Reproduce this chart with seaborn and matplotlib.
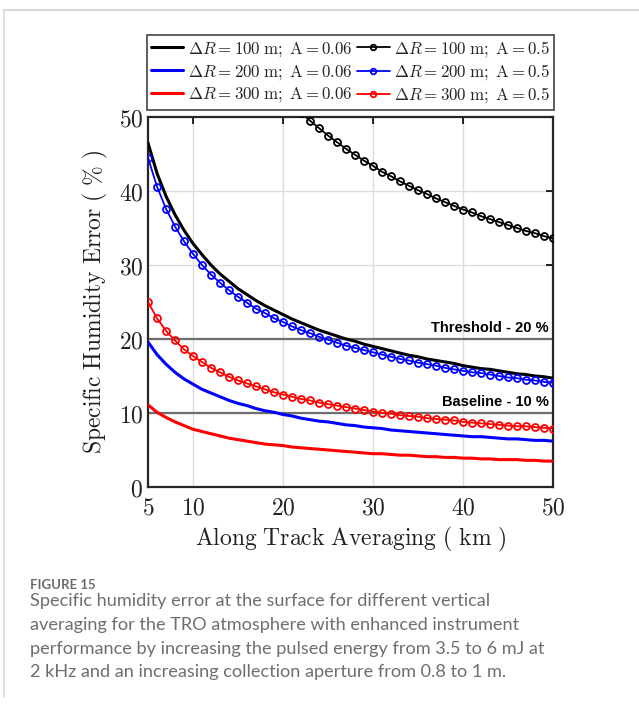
import matplotlib
matplotlib.use("Agg")
import matplotlib.pyplot as plt
import seaborn as sns
import pandas as pd
from matplotlib.lines import Line2D

# Along-track averaging distance (km)
km = list(range(5, 51))

# Specific humidity error (%), attenuation A = 0.06
err_100_a006 = [46.5, 42.4, 39.3, 36.8, 34.7, 32.9, 31.4, 30.0, 28.8, 27.8,
                26.8, 26.0, 25.2, 24.5, 23.9, 23.3, 22.7, 22.2, 21.7, 21.2,
                20.8, 20.4, 20.0, 19.7, 19.3, 19.0, 18.7, 18.4, 18.1, 17.8,
                17.6, 17.3, 17.1, 16.9, 16.7, 16.4, 16.2, 16.0, 15.9, 15.7,
                15.5, 15.3, 15.2, 15.0, 14.9, 14.7]
err_200_a006 = [19.6, 17.9, 16.6, 15.5, 14.6, 13.9, 13.2, 12.7, 12.2, 11.7,
                11.3, 11.0, 10.6, 10.3, 10.1, 9.8, 9.6, 9.3, 9.1, 8.9,
                8.8, 8.6, 8.4, 8.3, 8.1, 8.0, 7.9, 7.7, 7.6, 7.5,
                7.4, 7.3, 7.2, 7.1, 7.0, 6.9, 6.8, 6.8, 6.7, 6.6,
                6.5, 6.5, 6.4, 6.3, 6.3, 6.2]
err_300_a006 = [11.1, 10.1, 9.4, 8.8, 8.3, 7.8, 7.5, 7.2, 6.9, 6.6,
                6.4, 6.2, 6.0, 5.8, 5.7, 5.6, 5.4, 5.3, 5.2, 5.1,
                5.0, 4.9, 4.8, 4.7, 4.6, 4.5, 4.5, 4.4, 4.3, 4.3,
                4.2, 4.1, 4.1, 4.0, 4.0, 3.9, 3.9, 3.8, 3.8, 3.7,
                3.7, 3.7, 3.6, 3.6, 3.5, 3.5]

# Specific humidity error (%), attenuation A = 0.5
km_100_a05 = list(range(22, 51))
err_100_a05 = [50.6, 49.5, 48.5, 47.5, 46.6, 45.7, 44.9, 44.1, 43.4, 42.6,
               42.0, 41.3, 40.7, 40.1, 39.6, 39.0, 38.5, 38.0, 37.5, 37.1,
               36.6, 36.2, 35.8, 35.4, 35.0, 34.6, 34.3, 33.9, 33.6]
err_200_a05 = [44.5, 40.6, 37.6, 35.2, 33.2, 31.5, 30.0, 28.7, 27.6, 26.6,
               25.7, 24.9, 24.1, 23.5, 22.8, 22.3, 21.7, 21.2, 20.8, 20.3,
               19.9, 19.5, 19.1, 18.8, 18.5, 18.2, 17.9, 17.6, 17.3, 17.1,
               16.8, 16.6, 16.4, 16.1, 15.9, 15.7, 15.5, 15.4, 15.2, 15.0,
               14.8, 14.7, 14.5, 14.4, 14.2, 14.1]
err_300_a05 = [25.0, 22.8, 21.1, 19.8, 18.6, 17.7, 16.9, 16.1, 15.5, 14.9,
               14.4, 14.0, 13.6, 13.2, 12.8, 12.5, 12.2, 11.9, 11.7, 11.4,
               11.2, 11.0, 10.8, 10.6, 10.4, 10.2, 10.0, 9.9, 9.7, 9.6,
               9.5, 9.3, 9.2, 9.1, 9.0, 8.8, 8.7, 8.6, 8.5, 8.4,
               8.3, 8.2, 8.2, 8.1, 8.0, 7.9]

# Requirement levels (%)
req_levels = [20, 10]
req_labels = ["Threshold - 20 %", "Baseline - 10 %"]

x_ticks = [5, 10, 20, 30, 40, 50]
y_ticks = [0, 10, 20, 30, 40, 50]

sns.set_theme(style="white")
plt.rcParams["mathtext.fontset"] = "cm"
plt.rcParams["font.family"] = ["DejaVu Sans"]

fig = plt.figure(figsize=(6.39, 7.04), dpi=100)
ax = fig.add_axes([148 / 639, 1 - 487 / 704, 405 / 639, 370 / 704])

# light grid behind everything
for xv in x_ticks[1:-1]:
    ax.axvline(xv, color="#dcdcdc", lw=1.0, zorder=0)
for yv in y_ticks[1:-1]:
    ax.axhline(yv, color="#dcdcdc", lw=1.0, zorder=0)

# requirement lines
for lvl, txt in zip(req_levels, req_labels):
    ax.axhline(lvl, color="#6e6e6e", lw=1.6, zorder=1)
    ax.text(49.5, lvl + 0.6, txt, ha="right", va="bottom",
            fontsize=10.5, fontweight="bold", family=["Liberation Sans"],
            color="black", zorder=2)


def legend_label(dr, a):
    return r"$\Delta R = %s\;\mathrm{m;\;A} = %s$" % (dr, a)


solid = [(err_100_a006, "black", legend_label(100, "0.06")),
         (err_200_a006, "#0000ff", legend_label(200, "0.06")),
         (err_300_a006, "#ff0000", legend_label(300, "0.06"))]
marked = [(km_100_a05, err_100_a05, "black", legend_label(100, "0.5")),
          (km, err_200_a05, "#0000ff", legend_label(200, "0.5")),
          (km, err_300_a05, "#ff0000", legend_label(300, "0.5"))]

handles, labels = [], []
for vals, col, lab in solid:
    df = pd.DataFrame({"km": km, "err": vals})
    sns.lineplot(data=df, x="km", y="err", color=col, lw=2.2, ax=ax, zorder=3)
    handles.append(Line2D([], [], color=col, lw=2.2))
    labels.append(lab)
for xs, vals, col, lab in marked:
    df = pd.DataFrame({"km": xs, "err": vals})
    sns.lineplot(data=df, x="km", y="err", color=col, lw=1.3, marker="o",
                 markersize=5, markerfacecolor="none", markeredgecolor=col,
                 markeredgewidth=1.3, ax=ax, zorder=4)
    handles.append(Line2D([], [], color=col, lw=1.3, marker="o", markersize=4,
                          markerfacecolor="none", markeredgewidth=1.3))
    labels.append(lab)

ax.set_xlim(5, 50)
ax.set_ylim(0, 50)
ax.set_xticks(x_ticks)
ax.set_yticks(y_ticks)
ax.set_xticklabels([f"${t}$" for t in x_ticks])
ax.set_yticklabels([f"${t}$" for t in y_ticks])
ax.tick_params(axis="x", pad=6)
ax.tick_params(axis="both", which="both", direction="in", length=5, width=1.2,
               top=True, right=True, labelsize=17, colors="black",
               labelcolor="#222222")
for s in ax.spines.values():
    s.set_visible(True)
    s.set_color("#262626")
    s.set_linewidth(1.6)

ax.set_xlabel(r"$\mathrm{Along\ Track\ Averaging\ (\ km\ )}$", fontsize=17,
              color="#222222", labelpad=4)
ax.set_ylabel(r"$\mathrm{Specific\ Humidity\ Error\ (\ \%\ )}$", fontsize=17,
              color="#222222", labelpad=6)

leg = ax.legend(handles, labels, loc="lower center", bbox_to_anchor=(0.5, 1.02),
                ncol=2, fontsize=12.2, frameon=True, fancybox=False,
                edgecolor="#262626", handlelength=1.9, handletextpad=0.25,
                columnspacing=0.3, labelspacing=0.2, borderpad=0.25,
                borderaxespad=0.0)
leg.get_frame().set_linewidth(1.3)

# outer panel border
fig.add_artist(Line2D([4 / 639, 4 / 639], [1 - 10 / 704, 1 - 697 / 704],
                      color="#d9d9d9", lw=1.2, transform=fig.transFigure))
fig.add_artist(Line2D([4 / 639, 1.0], [1 - 10 / 704, 1 - 10 / 704],
                      color="#d9d9d9", lw=1.5, transform=fig.transFigure))

# caption
cap_font = ["Lato", "DejaVu Sans"]
fig.text(30 / 639, 1 - 585 / 704, "FIGURE 15", fontsize=9.5, fontweight="bold",
         color="#6b6b6b", family=cap_font, va="center", ha="left")
caption = ("Specific humidity error at the surface for different vertical\n"
           "averaging for the TRO atmosphere with enhanced instrument\n"
           "performance by increasing the pulsed energy from 3.5 to 6 mJ at\n"
           "2 kHz and an increasing collection aperture from 0.8 to 1 m.")
fig.text(30 / 639, 1 - 593 / 704, caption, fontsize=13.1, color="#6e6e6e",
         family=cap_font, va="top", ha="left", linespacing=1.6)

fig.savefig("out.png", dpi=100)
